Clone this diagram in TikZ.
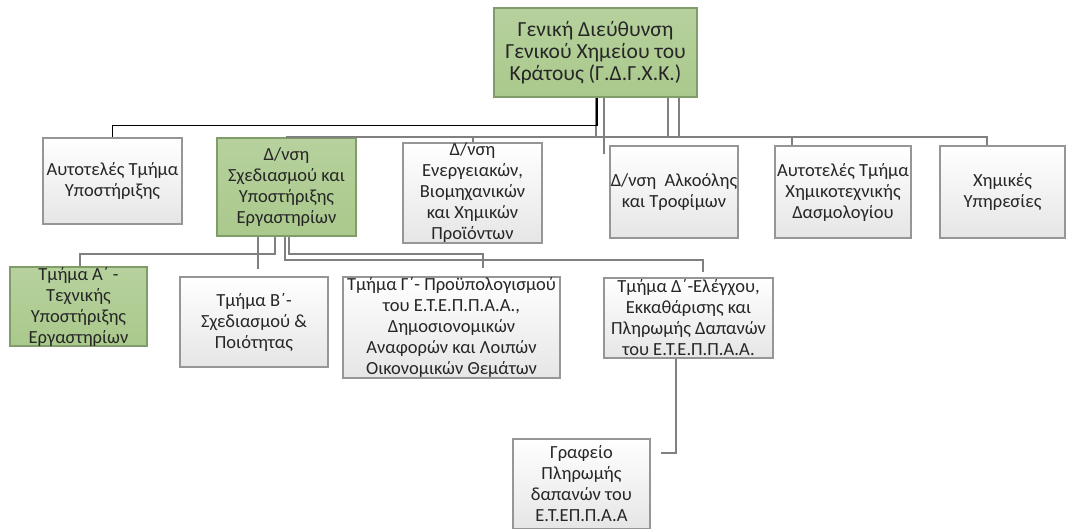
\documentclass[tikz,border=0pt]{standalone}
\usepackage{fontspec}
\setmainfont{Carlito}
\usetikzlibrary{shadows}
\definecolor{grn}{RGB}{170,201,140}
\definecolor{grnb}{RGB}{128,156,104}
\definecolor{gbord}{RGB}{150,150,150}
\definecolor{lnc}{RGB}{128,128,128}
\tikzset{
  box/.style={draw=gbord, line width=1.2pt, top color=white, bottom color=black!10, align=center, inner sep=0pt,
    font=\fontsize{18.5}{21}\selectfont, text=black!85, drop shadow={shadow xshift=1pt, shadow yshift=-1pt, opacity=0.35}},
  gbox/.style={box, top color=grn!85!white, bottom color=grn, draw=grnb},
  gl/.style={draw=lnc, line width=2pt},
  blk/.style={draw=black, line width=1.6pt}
}
\begin{document}
\begin{tikzpicture}[x=1pt,y=-1pt]
\useasboundingbox (0,0) rectangle (1067,528);
\node[gbox, minimum width=203pt, minimum height=89pt, font=\fontsize{21.5}{22}\selectfont] (top) at (595.5,52.5) {Γενική Διεύθυνση\\Γενικού Χημείου του\\Κράτους (Γ.Δ.Γ.Χ.Κ.)};
\node[box, minimum width=139pt, minimum height=86pt] (n1) at (112.5,181) {Αυτοτελές Τμήμα\\Υποστήριξης};
\node[gbox, minimum width=139pt, minimum height=98pt] (n2) at (286.5,187) {Δ/νση\\Σχεδιασμού και\\Υποστήριξης\\Εργαστηρίων};
\node[box, minimum width=139pt, minimum height=96pt] (n3) at (472.5,193) {Δ/νση\\Ενεργειακών,\\Βιομηχανικών\\και Χημικών\\Προϊόντων};
\node[box, minimum width=128pt, minimum height=92pt] (n4) at (674,192) {Δ/νση\ \ Αλκοόλης\\και Τροφίμων};
\node[box, minimum width=136pt, minimum height=92pt] (n5) at (843,192) {Αυτοτελές Τμήμα\\Χημικοτεχνικής\\Δασμολογίου};
\node[box, minimum width=125pt, minimum height=92pt] (n6) at (1002.5,192) {Χημικές\\Υπηρεσίες};
\node[gbox, minimum width=137pt, minimum height=77pt] (a) at (78.5,306.5) {Τμήμα Α΄ -\\Τεχνικής\\Υποστήριξης\\Εργαστηρίων};
\node[box, minimum width=148pt, minimum height=90pt] (b) at (254,322) {Τμήμα Β΄-\\Σχεδιασμού \&\\Ποιότητας};
\node[box, minimum width=217pt, minimum height=101pt] (c) at (451.5,327.5) {Τμήμα Γ΄- Προϋπολογισμού\\του Ε.Τ.Ε.Π.Π.Α.Α.,\\Δημοσιονομικών\\Αναφορών και Λοιπών\\Οικονομικών Θεμάτων};
\node[box, minimum width=169pt, minimum height=80pt] (d) at (688.5,318) {Τμήμα Δ΄-Ελέγχου,\\Εκκαθάρισης και\\Πληρωμής Δαπανών\\του Ε.Τ.Ε.Π.Π.Α.Α.};
\node[box, minimum width=137pt, minimum height=90pt] (g) at (581.5,484) {Γραφείο\\Πληρωμής\\δαπανών του\\Ε.Τ.ΕΠ.Π.Α.Α};
% level 1 connectors
\coordinate (bus) at (0,136.5);
\draw[gl] ([xshift=8.5pt]top.south) -- ++(0,56);
\draw[gl] (top.south) -- (top.south |- bus);
\draw[gl] ([xshift=72.5pt]top.south) -- ([xshift=72.5pt]top.south |- bus);
\draw[gl] ([xshift=83.5pt]top.south) -- ([xshift=83.5pt]top.south |- bus);
\draw[gl] (n2.north) -- (n2.north |- bus) -- ([xshift=-15.5pt]n6.north |- bus) -- ([xshift=-15.5pt]n6.north);
\draw[gl] (n3.north |- bus) -- (n3.north);
\draw[gl] ([xshift=-51pt]n5.north |- bus) -- ([xshift=-51pt]n5.north);
\draw[blk] ([xshift=1.5pt]top.south) -- ++(0,28) -| (n1.north);
% level 2 connectors
\draw[gl] ([xshift=-11.5pt]n2.south) -- ++(0,17) -| ([xshift=1.5pt]a.north);
\draw[gl] ([xshift=-28.5pt]n2.south) -- ++(0,32);
\draw[gl] ([xshift=2pt]n2.south) -- ++(0,17) -| ([xshift=31.5pt,yshift=8pt]c.north);
\draw[gl] ([xshift=-1.5pt]n2.south) -- ++(0,23) -| ([xshift=14.5pt,yshift=5pt]d.north);
\draw[gl] ([xshift=-12.5pt]d.south) |- ([xshift=10pt,yshift=31pt]g.east);
\end{tikzpicture}
\end{document}
